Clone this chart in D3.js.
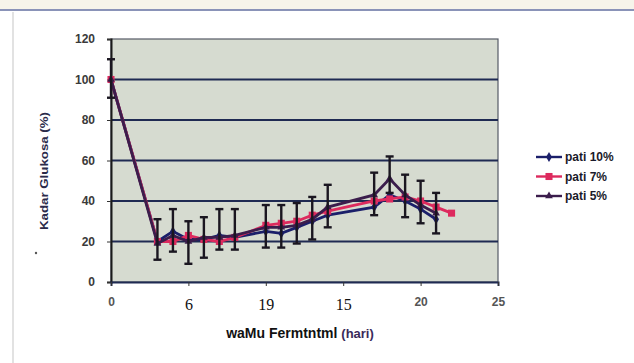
<!DOCTYPE html>
<html>
<head>
<meta charset="utf-8">
<script src="https://cdn.jsdelivr.net/npm/d3@7"></script>
<style>
  body { margin: 0; background: #fff; }
  svg { display: block; }
  .tick-y { font: bold 12px "Liberation Sans", Arial, sans-serif; fill: #3a3a3a; }
  .tick-sans { font: bold 12px "Liberation Sans", Arial, sans-serif; fill: #555; }
  .tick-serif { font: 16px "Liberation Serif", "Times New Roman", serif; fill: #111; }
  .legend { font: bold 12px "Liberation Sans", Arial, sans-serif; fill: #1a1a2a; }
</style>
</head>
<body>
<div id="vis"></div>
<script>
'use strict';

//data
var days = [0, 3, 4, 5, 6, 7, 8, 10, 11, 12, 13, 14, 17, 18, 19, 20, 21];
var pati10 = [100, 20, 25, 21, 21, 23, 22, 25, 24, 27, 30, 33, 37, 43, 40, 36, 31];
var pati7 = [100, 20, 20, 23, 21, 20, 22, 28, 29, 30, 33, 35, 40, 41, 42, 40, 37, 34];
var pati7Days = days.concat([22]);
var pati5 = [100, 19, 23, 20, 22, 22, 23, 27, 27, 28, 31, 37, 43, 51, 43, 38, 34];
var errLow = [91, 11, 15, 9, 12, 16, 16, 17, 17, 19, 21, 27, 33, 44, 32, 29, 24];
var errHigh = [110, 31, 36, 30, 32, 36, 36, 38, 38, 39, 42, 48, 54, 62, 53, 50, 44];
var yTicks = [0, 20, 40, 60, 80, 100, 120];
var xTicks = [0, 5, 10, 15, 20, 25];
var xTickLabels = ['0', '6', '19', '15', '20', '25'];
var seriesNames = ['pati 10%', 'pati 7%', 'pati 5%'];

//layout
var width = 634, height = 363;
var plot = { left: 111, right: 498, top: 39, bottom: 282 };

var x = d3.scaleLinear().domain([0, 25]).range([plot.left, plot.right]);
var y = d3.scaleLinear().domain([0, 120]).range([plot.bottom, plot.top]);

var svg = d3.select('#vis').append('svg')
    .attr('width', width)
    .attr('height', height);

//scan edges
svg.append('rect').attr('x', 0).attr('y', 0).attr('width', width).attr('height', 9).attr('fill', '#f6f4ea');
svg.append('line').attr('x1', 0).attr('x2', width).attr('y1', 10).attr('y2', 10)
    .attr('stroke', '#8a93b8').attr('stroke-width', 2);
svg.append('line').attr('x1', 13).attr('x2', 13).attr('y1', 12).attr('y2', height)
    .attr('stroke', '#d8d8d8').attr('stroke-width', 1.5);

//plot area
svg.append('rect')
    .attr('x', plot.left).attr('y', plot.top)
    .attr('width', plot.right - plot.left).attr('height', plot.bottom - plot.top)
    .attr('fill', '#d6dbd0')
    .attr('stroke', '#555a66').attr('stroke-width', 1.2);

//grid
svg.selectAll('.grid')
    .data(yTicks.slice(1, -1))
    .enter().append('line')
    .attr('x1', plot.left).attr('x2', plot.right)
    .attr('y1', function (d) { return y(d); })
    .attr('y2', function (d) { return y(d); })
    .attr('stroke', '#1f2a52').attr('stroke-width', 2);

//axes
var yAxis = svg.append('g')
    .attr('transform', 'translate(' + plot.left + ',0)')
    .call(d3.axisLeft(y).tickValues(yTicks).tickSize(4).tickPadding(12));
yAxis.select('.domain').attr('stroke', '#1a1a1a').attr('stroke-width', 2);
yAxis.selectAll('.tick line').attr('stroke', '#333');
yAxis.selectAll('.tick text').attr('class', 'tick-y');

var xAxis = svg.append('g')
    .attr('transform', 'translate(0,' + plot.bottom + ')')
    .call(d3.axisBottom(x).tickValues(xTicks).tickSize(4).tickPadding(10)
        .tickFormat(function (d, i) { return xTickLabels[i]; }));
xAxis.select('.domain').attr('stroke', '#1f2a52').attr('stroke-width', 2);
xAxis.selectAll('.tick line').attr('stroke', '#333');
xAxis.selectAll('.tick text')
    .attr('class', function (d, i) { return (i >= 1 && i <= 3) ? 'tick-serif' : 'tick-sans'; })
    .attr('dy', function (d, i) { return (i >= 1 && i <= 3) ? '0.85em' : '0.8em'; });

//axis titles
svg.append('text')
    .attr('x', 300).attr('y', 338)
    .attr('text-anchor', 'middle')
    .style('font', 'bold 14px "Liberation Sans", Arial, sans-serif')
    .style('fill', '#111')
    .text('waMu Fermtntml ')
    .append('tspan')
    .style('fill', '#3a2a5a')
    .style('font-size', '13px')
    .text('(hari)');

svg.append('text')
    .attr('transform', 'translate(48,171) rotate(-90)')
    .attr('text-anchor', 'middle')
    .attr('textLength', 118)
    .attr('lengthAdjust', 'spacingAndGlyphs')
    .style('font', 'bold 10px "Liberation Sans", Arial, sans-serif')
    .style('fill', '#2a2a4a')
    .text('Kadar Glukosa (%)');
svg.append('circle').attr('cx', 36).attr('cy', 253).attr('r', 1.2).attr('fill', '#555');

//series
var series = [
    { name: seriesNames[0], days: days, vals: pati10, color: '#1b1f6a', marker: d3.symbolDiamond, size: 30 },
    { name: seriesNames[1], days: pati7Days, vals: pati7, color: '#dd2a5e', marker: d3.symbolSquare, size: 50 },
    { name: seriesNames[2], days: days, vals: pati5, color: '#3b1d4c', marker: d3.symbolTriangle, size: 26 }
];

var line = d3.line()
    .x(function (d) { return x(d[0]); })
    .y(function (d) { return y(d[1]); });

series.forEach(function (s) {
    var pts = d3.zip(s.days, s.vals);
    svg.append('path')
        .datum(pts)
        .attr('d', line)
        .attr('fill', 'none')
        .attr('stroke', s.color)
        .attr('stroke-width', 2.8);
    svg.selectAll(null)
        .data(pts)
        .enter().append('path')
        .attr('transform', function (d) { return 'translate(' + x(d[0]) + ',' + y(d[1]) + ')'; })
        .attr('d', d3.symbol().type(s.marker).size(s.size))
        .attr('fill', s.color);
});

//error bars
var errs = d3.zip(days, errLow, errHigh);
svg.selectAll('.err')
    .data(errs)
    .enter().append('line')
    .attr('x1', function (d) { return x(d[0]); })
    .attr('x2', function (d) { return x(d[0]); })
    .attr('y1', function (d) { return y(d[1]); })
    .attr('y2', function (d) { return y(d[2]); })
    .attr('stroke', '#1a1620').attr('stroke-width', 2.4);
[1, 2].forEach(function (k) {
    svg.selectAll(null)
        .data(errs)
        .enter().append('line')
        .attr('x1', function (d) { return x(d[0]) - 4; })
        .attr('x2', function (d) { return x(d[0]) + 4; })
        .attr('y1', function (d) { return y(d[k]); })
        .attr('y2', function (d) { return y(d[k]); })
        .attr('stroke', '#1a1620').attr('stroke-width', 2.4);
});

//legend
var legend = svg.selectAll('.legend-item')
    .data(series)
    .enter().append('g')
    .attr('transform', function (d, i) { return 'translate(536,' + (157 + i * 19.5) + ')'; });
legend.append('line')
    .attr('x1', 0).attr('x2', 26)
    .attr('stroke', function (d) { return d.color; })
    .attr('stroke-width', 2.4);
legend.append('path')
    .attr('transform', 'translate(13,0)')
    .attr('d', function (d) { return d3.symbol().type(d.marker).size(d.size)(); })
    .attr('fill', function (d) { return d.color; });
legend.append('text')
    .attr('x', 29).attr('dy', '0.35em')
    .attr('class', 'legend')
    .text(function (d) { return d.name; });
</script>
</body>
</html>
